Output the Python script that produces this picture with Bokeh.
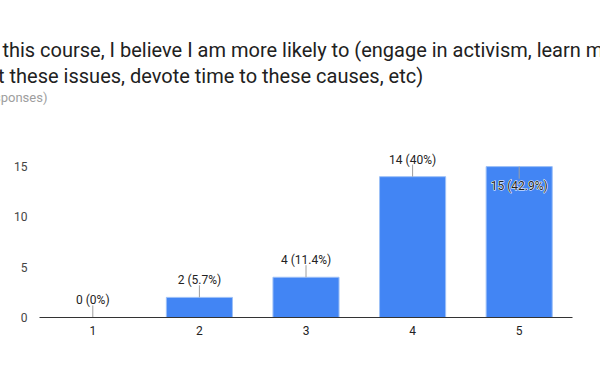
from bokeh.plotting import figure
from bokeh.models import ColumnDataSource, FactorRange, Range1d, Title, FixedTicker
from bokeh.core.properties import value
from bokeh.embed import file_html
from bokeh.resources import INLINE

# ---- data ----
categories = ["1", "2", "3", "4", "5"]
counts = [0, 2, 4, 14, 15]
percents = ["0%", "5.7%", "11.4%", "40%", "42.9%"]
y_ticks = [0, 5, 10, 15]
title_line1 = "After this course, I believe I am more likely to (engage in activism, learn more"
title_line2 = "about these issues, devote time to these causes, etc)"
subtitle = "(35 responses)"

Y_MAX = 17
LEAD = 1.2

labels = [f"{c} ({p})" for c, p in zip(counts, percents)]
inside = [c + LEAD + 1.6 > Y_MAX for c in counts]
lead_end = [c - LEAD if ins else c + LEAD for c, ins in zip(counts, inside)]
out_src = ColumnDataSource(dict(
    x=[x for x, ins in zip(categories, inside) if not ins],
    y=[y for y, ins in zip(lead_end, inside) if not ins],
    t=[t for t, ins in zip(labels, inside) if not ins],
))
in_src = ColumnDataSource(dict(
    x=[x for x, ins in zip(categories, inside) if ins],
    y=[y for y, ins in zip(lead_end, inside) if ins],
    t=[t for t, ins in zip(labels, inside) if ins],
))
src = ColumnDataSource(dict(x=categories, top=counts, lead=lead_end))

p = figure(
    width=600, height=380,
    x_range=FactorRange(*categories, range_padding=0),
    y_range=Range1d(0, Y_MAX),
    output_backend="svg", toolbar_location=None,
    min_border_left=39, min_border_right=28,
    min_border_top=146, min_border_bottom=63,
)
p.outline_line_color = None
p.xgrid.grid_line_color = None
p.ygrid.grid_line_color = None
p.background_fill_color = "white"
p.border_fill_color = "white"

p.vbar(x="x", top="top", width=0.62, source=src,
       fill_color="#4285F4", line_color="#9dc0f7", line_width=1)
p.segment(x0="x", y0="top", x1="x", y1="lead", source=src,
          line_color="#9e9e9e", line_width=1)

p.text(x="x", y="y", text="t", source=out_src,
       text_font=value("Roboto"), text_font_size="12px",
       text_color="#222222", text_align="center", text_baseline="bottom",
       y_offset=2)
# inside label: white halo underneath, dark text on top
p.text(x="x", y="y", text="t", source=in_src,
       text_font=value("Roboto"), text_font_size="12px",
       text_color="white", text_align="center", text_baseline="top",
       text_outline_color="white")
p.text(x="x", y="y", text="t", source=in_src,
       text_font=value("Roboto"), text_font_size="12px",
       text_color="#222222", text_align="center", text_baseline="top")

# axes
xa = p.xaxis[0]
xa.axis_line_color = "#333333"
xa.major_tick_line_color = None
xa.minor_tick_line_color = None
xa.major_label_text_font = "Roboto"
xa.major_label_text_font_size = "12px"
xa.major_label_text_color = "#222222"
xa.major_label_standoff = 2

ya = p.yaxis[0]
ya.ticker = FixedTicker(ticks=y_ticks)
ya.axis_line_color = None
ya.major_tick_line_color = None
ya.minor_tick_line_color = None
ya.major_label_text_font = "Roboto"
ya.major_label_text_font_size = "12px"
ya.major_label_text_color = "#444444"
ya.major_label_standoff = 6

# spacer between plot and the title block
p.add_layout(Title(text=" ", standoff=25, text_font_size="13px"), "above")

# title texts (cropped at left edge as in the reference); first added sits nearest the plot
for txt, size, color, off in [
    (subtitle, "13px", "#9e9e9e", -79),
    (title_line2, "20px", "#212121", -86),
    (title_line1, "20px", "#212121", -86),
]:
    p.add_layout(Title(text=txt, align="left", offset=off, standoff=0,
                       text_font="Roboto", text_font_size=size,
                       text_font_style="normal", text_color=color), "above")

open("out.html", "w").write(file_html(p, INLINE))
